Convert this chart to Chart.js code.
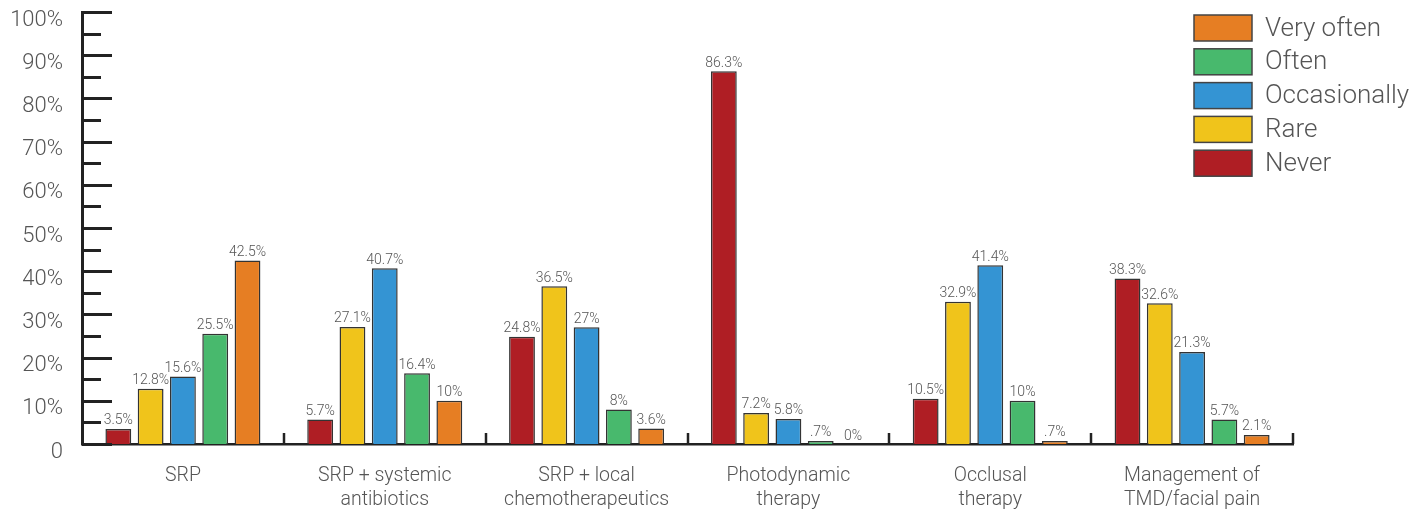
<!DOCTYPE html>
<html><head><meta charset="utf-8">
<script src="https://cdn.jsdelivr.net/npm/chart.js@4.4.0/dist/chart.umd.min.js"></script>
<style>html,body{margin:0;padding:0;background:#fff;}</style>
</head><body>
<canvas id="c" width="1427" height="512"></canvas>
<script>
const categories = [['SRP'], ['SRP + systemic','antibiotics'], ['SRP + local','chemotherapeutics'], ['Photodynamic','therapy'], ['Occlusal','therapy'], ['Management of','TMD/facial pain']];
const seriesNames = ['Never','Rare','Occasionally','Often','Very often'];
const never        = [3.5, 5.7, 24.8, 86.3, 10.5, 38.3];
const rare         = [12.8, 27.1, 36.5, 7.2, 32.9, 32.6];
const occasionally = [15.6, 40.7, 27, 5.8, 41.4, 21.3];
const often        = [25.5, 16.4, 8, 0.7, 10, 5.7];
const veryOften    = [42.5, 10, 3.6, 0, 0.7, 2.1];
const seriesValues = [never, rare, occasionally, often, veryOften];
const seriesColors = ['#AF1E24', '#F0C41B', '#3494D3', '#48B96D', '#E67E23'];
const yMax = 100;
const yMajorStep = 10;
const yMinorStep = 5;

const FONT = 'Roboto';
const TEXT = '#555';

function fmt(v){ return String(v).replace(/^0\./, '.') + '%'; }

const decor = {
  id: 'decor',
  afterDatasetsDraw(chart){
    const ctx = chart.ctx, ca = chart.chartArea;
    const ys = chart.scales.y, xs = chart.scales.x;
    ctx.save();
    ctx.strokeStyle = '#222'; ctx.lineWidth = 3; ctx.lineCap = 'butt';
    for (let v = 0; v <= yMax; v += yMinorStep){
      const y = Math.round(ys.getPixelForValue(v)) + 0.5;
      const len = (v % yMajorStep === 0) ? 30 : 19;
      ctx.beginPath(); ctx.moveTo(ca.left, y); ctx.lineTo(ca.left + len, y); ctx.stroke();
    }
    const half = (xs.getPixelForValue(1) - xs.getPixelForValue(0)) / 2;
    ctx.lineWidth = 2.5;
    for (let i = 0; i < categories.length; i++){
      const x = Math.round(xs.getPixelForValue(i) + half);
      ctx.beginPath(); ctx.moveTo(x, ca.bottom); ctx.lineTo(x, ca.bottom - 11); ctx.stroke();
    }
    ctx.fillStyle = TEXT; ctx.font = '300 14px ' + FONT;
    ctx.textAlign = 'center'; ctx.textBaseline = 'bottom';
    chart.data.datasets.forEach((ds, di) => {
      const meta = chart.getDatasetMeta(di);
      meta.data.forEach((el, i) => {
        ctx.fillText(fmt(ds.data[i]), el.x, el.y - 1);
      });
    });
    ctx.font = '300 26px ' + FONT; ctx.textAlign = 'left'; ctx.textBaseline = 'middle';
    const lx = 1194, ly = 15, bw = 58, bh = 26, step = 33.8;
    for (let k = 0; k < seriesNames.length; k++){
      const idx = seriesNames.length - 1 - k;
      const y = ly + k * step;
      ctx.fillStyle = seriesColors[idx];
      ctx.fillRect(lx, y, bw, bh);
      ctx.strokeStyle = '#444'; ctx.lineWidth = 1.5;
      ctx.strokeRect(lx, y, bw, bh);
      ctx.fillStyle = TEXT;
      ctx.fillText(seriesNames[idx], lx + 71, y + bh / 2 + 1);
    }
    ctx.restore();
  }
};

new Chart(document.getElementById('c'), {
  type: 'bar',
  data: {
    labels: categories,
    datasets: seriesNames.map((n, i) => ({
      label: n, data: seriesValues[i],
      backgroundColor: seriesColors[i], borderColor: '#333', borderWidth: 1.5,
      categoryPercentage: 0.8, barPercentage: 0.8
    }))
  },
  options: {
    responsive: false, animation: false,
    layout: { padding: { left: 0, top: 12, right: 134, bottom: 0 } },
    plugins: { legend: { display: false }, tooltip: { enabled: false } },
    scales: {
      x: {
        grid: { display: false, drawTicks: false },
        border: { display: true, color: '#222', width: 2.5 },
        ticks: { color: TEXT, padding: 20, font: { family: FONT, size: 19.5, weight: 300, lineHeight: 1.23 }, maxRotation: 0, autoSkip: false },
        afterFit(s){ s.height = 68; s.paddingLeft = 0; s.paddingRight = 0; }
      },
      y: {
        min: 0, max: yMax,
        grid: { display: false, drawTicks: false },
        border: { display: true, color: '#222', width: 3 },
        ticks: { stepSize: yMajorStep, labelOffset: 8, padding: 19, color: TEXT,
          font: { family: FONT, size: 22, weight: 300 },
          callback: v => v === 0 ? '0' : v + '%' },
        afterFit(s){ s.width = 82; s.paddingTop = 0; s.paddingBottom = 0; }
      }
    }
  },
  plugins: [decor]
});
</script>
</body></html>
